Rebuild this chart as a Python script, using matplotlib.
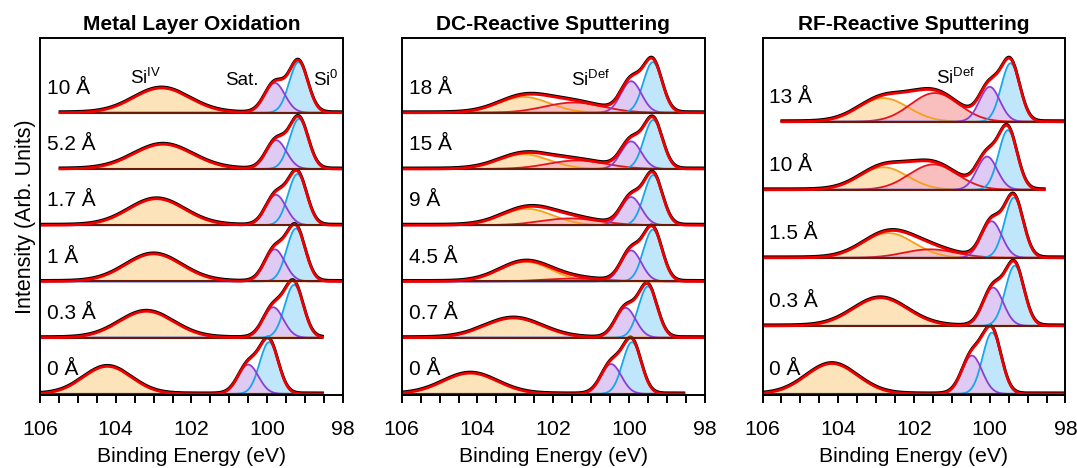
import numpy as np
import matplotlib
matplotlib.use("Agg")
import matplotlib.pyplot as plt

plt.rcParams['font.family'] = ['Liberation Sans', 'DejaVu Sans']
plt.rcParams['mathtext.fontset'] = 'custom'
plt.rcParams['mathtext.rm'] = 'Liberation Sans'
plt.rcParams['mathtext.it'] = 'Liberation Sans'

# ---- Metal Layer Oxidation (bottom -> top) ----
p1_labels = ['0 Å', '0.3 Å', '1 Å', '1.7 Å', '5.2 Å', '10 Å']
p1_hi = [106.0, 106.0, 106.0, 106.0, 105.47, 105.47]
p1_lo = [98.54, 98.54, 98.0, 98.0, 98.04, 98.0]
p1_iv_pos = [104.22, 103.19, 103.0, 102.92, 102.75, 102.79]
p1_iv_amp = [0.49, 0.47, 0.49, 0.47, 0.44, 0.44]
p1_iv_w = [1.5, 1.7, 1.75, 1.75, 1.85, 1.75]
p1_def_pos = [101.5, 101.5, 101.5, 101.5, 101.5, 101.5]
p1_def_amp = [0, 0, 0, 0, 0, 0]
p1_def_w = [1.6, 1.6, 1.6, 1.6, 1.6, 1.6]
p1_sat_pos = [100.5, 99.84, 99.8, 99.77, 99.76, 99.8]
p1_sat_amp = [0.52, 0.54, 0.57, 0.54, 0.51, 0.53]
p1_si0_pos = [99.95, 99.29, 99.24, 99.2, 99.16, 99.17]
p1_si0_amp = [0.92, 0.94, 0.94, 0.91, 0.89, 0.9]

# ---- DC-Reactive Sputtering ----
p2_labels = ['0 Å', '0.7 Å', '4.5 Å', '9 Å', '15 Å', '18 Å']
p2_hi = [106.0, 106.0, 106.0, 106.0, 106.0, 106.0]
p2_lo = [98.55, 98.0, 98.0, 98.0, 98.0, 98.0]
p2_iv_pos = [104.19, 103.05, 102.74, 102.69, 102.78, 102.78]
p2_iv_amp = [0.37, 0.35, 0.35, 0.29, 0.26, 0.28]
p2_iv_w = [1.7, 1.8, 1.6, 1.6, 1.6, 1.6]
p2_def_pos = [101.5, 101.5, 101.46, 101.55, 101.37, 101.46]
p2_def_amp = [0, 0, 0.05, 0.12, 0.15, 0.18]
p2_def_w = [1.8, 1.8, 1.8, 1.8, 1.8, 1.8]
p2_sat_pos = [100.47, 100.09, 99.94, 99.94, 99.94, 99.94]
p2_sat_amp = [0.53, 0.53, 0.55, 0.50, 0.49, 0.56]
p2_si0_pos = [99.92, 99.5, 99.37, 99.36, 99.36, 99.37]
p2_si0_amp = [0.92, 0.91, 0.92, 0.89, 0.87, 0.9]

# ---- RF-Reactive Sputtering ----
p3_labels = ['0 Å', '0.3 Å', '1.5 Å', '10 Å', '13 Å']
p3_hi = [106.0, 106.0, 106.0, 106.0, 105.49]
p3_lo = [98.0, 98.0, 98.0, 98.56, 98.0]
p3_iv_pos = [104.17, 102.89, 102.68, 102.81, 102.81]
p3_iv_amp = [0.54, 0.50, 0.44, 0.40, 0.42]
p3_iv_w = [1.6, 1.7, 1.6, 1.5, 1.55]
p3_def_pos = [101.5, 101.5, 101.58, 101.49, 101.45]
p3_def_amp = [0, 0, 0.15, 0.45, 0.51]
p3_def_w = [1.6, 1.6, 1.6, 1.5, 1.5]
p3_sat_pos = [100.47, 99.91, 99.95, 100.07, 100.0]
p3_sat_amp = [0.68, 0.68, 0.65, 0.59, 0.62]
p3_si0_pos = [99.94, 99.34, 99.36, 99.52, 99.45]
p3_si0_amp = [1.09, 1.07, 1.07, 1.06, 1.04]

sat_w = 0.63
si0_w = 0.58

titles = ['Metal Layer Oxidation', 'DC-Reactive Sputtering', 'RF-Reactive Sputtering']

c_iv, f_iv = '#f5a11c', '#fde3b9'
c_def, f_def = '#e8141c', '#f9bfbf'
c_sat, f_sat = '#8a3fd3', '#dfcaf3'
c_si0, f_si0 = '#16a6ee', '#bfe6fa'
c_fit = '#ee0000'
c_base = '#6a1a08'


def gauss(x, c, a, w):
    s = w / 2.3548
    return a * np.exp(-(x - c) ** 2 / (2 * s * s))


panels = [
    dict(labels=p1_labels, hi=p1_hi, lo=p1_lo, iv=(p1_iv_pos, p1_iv_amp, p1_iv_w),
         de=(p1_def_pos, p1_def_amp, p1_def_w), sat=(p1_sat_pos, p1_sat_amp),
         si0=(p1_si0_pos, p1_si0_amp), step=1.0),
    dict(labels=p2_labels, hi=p2_hi, lo=p2_lo, iv=(p2_iv_pos, p2_iv_amp, p2_iv_w),
         de=(p2_def_pos, p2_def_amp, p2_def_w), sat=(p2_sat_pos, p2_sat_amp),
         si0=(p2_si0_pos, p2_si0_amp), step=1.0),
    dict(labels=p3_labels, hi=p3_hi, lo=p3_lo, iv=(p3_iv_pos, p3_iv_amp, p3_iv_w),
         de=(p3_def_pos, p3_def_amp, p3_def_w), sat=(p3_sat_pos, p3_sat_amp),
         si0=(p3_si0_pos, p3_si0_amp), step=1.21),
]

fig = plt.figure(figsize=(10.77, 4.68), dpi=100)
lefts = [0.0371, 0.373, 0.708]

for k, p in enumerate(panels):
    ax = fig.add_axes([lefts[k], 0.156, 0.2813, 0.763])
    for i in range(len(p['labels'])):
        off = i * p['step']
        x = np.linspace(p['lo'][i], p['hi'][i], 600)
        yiv = gauss(x, p['iv'][0][i], p['iv'][1][i], p['iv'][2][i])
        yde = gauss(x, p['de'][0][i], p['de'][1][i], p['de'][2][i])
        ysat = gauss(x, p['sat'][0][i], p['sat'][1][i], sat_w)
        ysi0 = gauss(x, p['si0'][0][i], p['si0'][1][i], si0_w)
        tot = yiv + yde + ysat + ysi0
        base = np.full_like(x, off)

        ax.fill_between(x, base, off + yiv, color=f_iv, lw=0)
        ax.plot(x, off + yiv, color=c_iv, lw=1.3)
        if p['de'][1][i] > 0:
            ax.fill_between(x, base, off + yde, color=f_def, lw=0)
            ax.plot(x, off + yde, color=c_def, lw=1.3)
        ax.fill_between(x, base, off + ysi0, color=f_si0, lw=0)
        ax.plot(x, off + ysi0, color=c_si0, lw=1.3)
        ax.fill_between(x, base, off + ysat, color=f_sat, lw=0)
        ax.plot(x, off + ysat, color=c_sat, lw=1.3)
        ax.plot(x, base, color=c_base, lw=1.5)
        ax.plot(x, off + tot + 0.018, color='black', lw=2.0)
        ax.plot(x, off + tot, color=c_fit, lw=2.0)
        ax.text(105.82, off + 0.43, p['labels'][i], fontsize=15, va='center', ha='left')

    ax.set_xlim(106, 98)
    ax.set_ylim(-0.02, 6.33)
    ax.set_xticks([106, 104, 102, 100, 98])
    ax.set_xticks(np.arange(98, 106.01, 0.5), minor=True)
    ax.tick_params(axis='x', which='both', direction='out', length=6, width=1.4,
                   labelsize=15.4, pad=12)
    ax.set_yticks([])
    for s in ax.spines.values():
        s.set_linewidth(1.4)
    ax.set_xlabel('Binding Energy (eV)', fontsize=15.2, labelpad=6)
    ax.set_title(titles[k], fontsize=15, fontweight='bold', pad=6)
    if k == 0:
        ax.set_ylabel('Intensity (Arb. Units)', fontsize=15.5, labelpad=3)
        ax.text(103.2, 5.62, r'Si$^{\mathrm{IV}}$', fontsize=13.5, ha='center', va='center')
        ax.text(100.67, 5.58, 'Sat.', fontsize=13.5, ha='center', va='center')
        ax.text(98.45, 5.58, r'Si$^{0}$', fontsize=13.5, ha='center', va='center')
    elif k == 1:
        ax.text(101.0, 5.58, r'Si$^{\mathrm{Def}}$', fontsize=13.5, ha='center', va='center')
    else:
        ax.text(100.9, 5.62, r'Si$^{\mathrm{Def}}$', fontsize=13.5, ha='center', va='center')

fig.savefig('out.png', dpi=100)
